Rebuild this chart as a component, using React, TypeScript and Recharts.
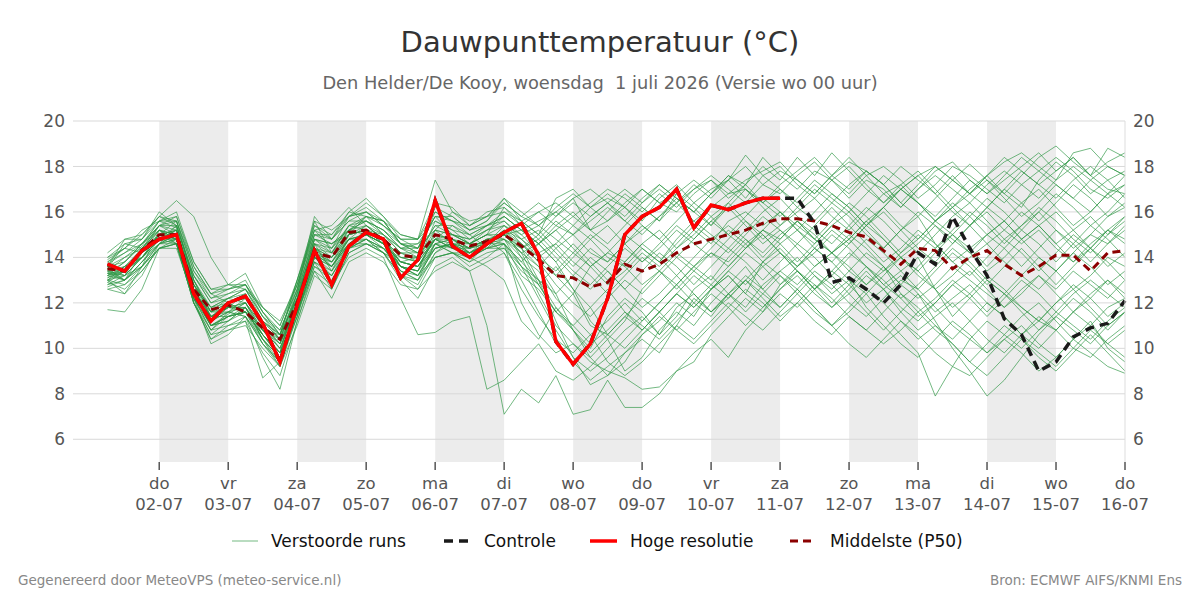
import React from 'react';
import { LineChart, Line, XAxis, YAxis, ReferenceArea, ReferenceLine } from 'recharts';

// hours since 01-07 00:00, 6-hourly from 01-07 06:00 to 16-07 00:00
const hours = [
  6, 12, 18, 24, 30, 36, 42, 48, 54, 60, 66, 72, 78, 84, 90, 96, 102, 108, 114, 120,
  126, 132, 138, 144, 150, 156, 162, 168, 174, 180, 186, 192, 198, 204, 210, 216, 222, 228, 234, 240,
  246, 252, 258, 264, 270, 276, 282, 288, 294, 300, 306, 312, 318, 324, 330, 336, 342, 348, 354, 360,
];

const dayTicks = [24, 48, 72, 96, 120, 144, 168, 192, 216, 240, 264, 288, 312, 336, 360];
const dayNames = ['do', 'vr', 'za', 'zo', 'ma', 'di', 'wo', 'do', 'vr', 'za', 'zo', 'ma', 'di', 'wo', 'do'];
const dayDates = ['02-07', '03-07', '04-07', '05-07', '06-07', '07-07', '08-07', '09-07', '10-07', '11-07', '12-07', '13-07', '14-07', '15-07', '16-07'];
const shadedDays = [[24, 48], [72, 96], [120, 144], [168, 192], [216, 240], [264, 288], [312, 336]];
const yTicks = [6, 8, 10, 12, 14, 16, 18, 20];

// Hoge resolutie (ends 11-07 00 uur)
const hires = [
  13.7, 13.4, 14.3, 14.8, 15.0, 12.4, 11.2, 12.0, 12.3, 11.1, 9.4, 11.9,
  14.3, 12.8, 14.5, 15.1, 14.8, 13.1, 13.9, 16.5, 14.5, 14.0, 14.6, 15.1,
  15.5, 14.1, 10.3, 9.3, 10.2, 12.2, 15.0, 15.8, 16.2, 17.0, 15.3, 16.3, 16.1, 16.4, 16.6, 16.6,
];

// Controle
const control = [
  13.7, 13.4, 14.3, 14.8, 15.0, 12.4, 11.2, 12.0, 12.3, 11.1, 9.4, 11.9,
  14.3, 12.8, 14.5, 15.1, 14.8, 13.1, 13.9, 16.5, 14.5, 14.0, 14.6, 15.1,
  15.5, 14.1, 10.3, 9.3, 10.2, 12.2, 15.0, 15.8, 16.2, 17.0, 15.3, 16.3, 16.1, 16.4, 16.6, 16.6,
  16.6, 15.5, 12.9, 13.1, 12.6, 12.0, 12.8, 14.2, 13.7, 15.8, 14.4, 13.2, 11.3, 10.6, 9.0, 9.4, 10.5, 10.9, 11.1, 12.1,
];

// Middelste (P50)
const p50 = [
  13.5, 13.4, 14.3, 15.0, 15.0, 12.6, 11.7, 11.9, 11.6, 10.9, 10.4, 12.0,
  14.2, 14.0, 15.1, 15.2, 14.8, 14.1, 14.0, 15.0, 14.8, 14.5, 14.7, 15.0,
  14.5, 13.9, 13.2, 13.1, 12.7, 12.9, 13.7, 13.4, 13.7, 14.2, 14.6, 14.8, 15.0, 15.2, 15.5, 15.7,
  15.7, 15.6, 15.4, 15.1, 14.9, 14.3, 13.7, 14.4, 14.3, 13.5, 14.0, 14.3, 13.7, 13.2, 13.6, 14.1, 14.1, 13.4, 14.2, 14.3,
];

// Verstoorde runs
const runs: number[][] = [
  [13.2, 13.8, 14.5, 15.6, 15.3, 12.4, 11.0, 11.5, 12.0, 10.6, 9.8, 12.5, 15.6, 14.2, 15.4, 15.8, 15.0, 14.2, 13.8, 15.6, 15.2, 14.6, 15.0, 16.2,
    15.4, 14.8, 15.6, 15.0, 14.2, 13.8, 14.6, 15.2, 15.8, 16.4, 15.6, 16.2, 16.8, 17.0, 16.2, 15.4,
    16.0, 16.6, 15.8, 15.2, 16.0, 16.8, 17.2, 16.4, 15.6, 16.2, 17.0, 17.6, 16.8, 16.2, 17.4, 18.2, 17.6, 16.8, 17.4, 17.8],
  [13.6, 13.2, 14.0, 14.8, 15.0, 12.8, 11.8, 12.2, 12.6, 11.4, 10.4, 11.8, 14.0, 13.6, 14.8, 15.0, 14.6, 13.2, 12.8, 14.2, 14.6, 14.0, 14.4, 14.6,
    12.0, 10.6, 9.8, 10.2, 9.6, 10.4, 11.2, 12.6, 13.4, 12.8, 13.6, 14.2, 13.8, 14.6, 15.2, 14.8,
    15.6, 14.8, 14.2, 13.6, 12.8, 13.4, 14.0, 13.2, 12.6, 11.8, 12.4, 13.2, 12.6, 11.8, 11.2, 10.8, 11.6, 12.4, 13.0, 12.2],
  [12.8, 13.0, 13.8, 14.6, 14.8, 12.2, 10.8, 11.0, 11.4, 10.2, 9.2, 11.6, 13.8, 12.6, 14.2, 14.6, 14.4, 13.6, 13.2, 14.0, 14.2, 13.8, 14.6, 15.4,
    15.0, 14.2, 13.2, 12.4, 13.6, 14.2, 13.8, 14.6, 15.2, 14.4, 15.0, 15.8, 16.4, 15.6, 14.8, 15.4,
    16.2, 17.0, 16.4, 15.8, 15.0, 14.4, 15.2, 15.8, 14.6, 13.8, 14.4, 15.0, 15.6, 14.8, 14.0, 13.4, 14.2, 15.0, 14.6, 15.4],
  [13.5, 14.6, 14.8, 15.8, 15.6, 13.4, 12.2, 12.6, 12.8, 11.6, 10.6, 13.0, 15.2, 14.4, 15.8, 16.2, 15.6, 14.6, 14.2, 16.0, 15.6, 15.0, 15.4, 15.8,
    15.2, 15.6, 16.0, 15.4, 16.2, 16.8, 16.2, 15.6, 16.6, 17.2, 16.4, 17.0, 17.4, 16.6, 17.6, 18.0,
    17.2, 16.6, 17.4, 18.0, 17.2, 16.4, 17.0, 17.6, 18.0, 17.4, 16.8, 17.6, 18.2, 18.6, 18.0, 17.4, 18.6, 18.8, 18.0, 17.6],
  [13.0, 12.4, 13.6, 15.2, 14.6, 12.0, 10.6, 11.2, 11.8, 10.4, 9.6, 11.4, 14.6, 13.4, 15.0, 15.2, 14.8, 13.8, 13.6, 14.8, 14.4, 14.2, 14.6, 15.0,
    14.4, 13.0, 11.2, 9.6, 8.4, 8.8, 9.4, 10.6, 11.2, 12.0, 11.4, 12.6, 13.2, 12.4, 13.8, 14.4,
    13.6, 14.2, 15.0, 14.4, 13.6, 12.8, 13.4, 14.0, 12.6, 11.4, 12.2, 13.0, 12.4, 11.6, 10.8, 11.4, 12.2, 11.6, 10.8, 11.6],
  [14.0, 14.4, 14.2, 15.4, 15.0, 12.6, 11.4, 12.0, 12.2, 11.0, 10.2, 12.2, 14.8, 14.6, 15.2, 15.6, 15.2, 14.4, 14.6, 15.8, 15.0, 14.8, 15.2, 15.6,
    14.8, 14.2, 14.6, 15.4, 14.8, 14.0, 13.6, 14.4, 13.8, 14.8, 15.6, 15.0, 14.4, 15.2, 16.0, 16.6,
    15.8, 15.2, 14.6, 15.4, 16.2, 15.6, 14.8, 14.2, 15.0, 15.8, 16.4, 15.6, 14.8, 15.4, 16.0, 15.2, 14.4, 15.0, 15.8, 16.2],
  [12.6, 12.8, 13.4, 14.4, 14.6, 12.0, 10.4, 10.8, 11.2, 9.8, 8.8, 11.2, 13.6, 13.0, 14.4, 14.8, 14.2, 13.0, 12.2, 13.6, 14.0, 13.4, 11.0, 7.1,
    8.2, 7.6, 8.8, 7.1, 7.3, 8.6, 7.4, 7.4, 8.0, 9.0, 9.4, 10.6, 11.4, 12.2, 11.6, 12.8,
    13.4, 12.6, 11.8, 12.4, 13.2, 12.6, 11.6, 10.8, 11.4, 12.0, 11.2, 10.4, 9.8, 10.6, 11.4, 10.8, 10.0, 9.6, 10.4, 11.0],
  [13.4, 13.0, 13.8, 14.6, 15.0, 12.6, 11.2, 11.6, 11.4, 10.2, 9.4, 11.8, 14.2, 13.8, 14.6, 15.0, 14.4, 13.4, 13.0, 14.6, 14.8, 14.2, 14.6, 15.2,
    14.0, 12.4, 11.0, 10.2, 9.4, 9.0, 8.7, 8.2, 8.3, 9.0, 9.8, 10.4, 9.6, 10.8, 11.6, 12.4,
    11.8, 12.6, 13.4, 12.8, 12.0, 12.6, 13.2, 12.4, 11.6, 12.2, 12.8, 12.0, 11.4, 10.6, 11.2, 12.0, 12.6, 11.8, 11.0, 11.6],
  [13.8, 14.2, 14.8, 16.0, 15.4, 13.2, 12.2, 12.4, 12.6, 11.2, 10.4, 12.6, 15.8, 14.8, 15.6, 16.0, 15.4, 14.8, 14.4, 16.2, 15.8, 15.2, 15.6, 16.6,
    16.0, 15.4, 16.2, 16.8, 16.2, 15.6, 16.4, 17.0, 16.4, 16.0, 16.8, 17.4, 16.6, 17.2, 18.0, 17.4,
    18.4, 17.6, 18.6, 17.8, 17.0, 16.4, 17.2, 17.8, 17.0, 16.2, 16.8, 17.4, 16.6, 15.8, 16.4, 17.2, 16.6, 16.0, 16.8, 17.2],
  [12.9, 13.4, 14.0, 14.8, 15.4, 13.0, 11.6, 11.8, 12.4, 11.0, 10.2, 11.8, 14.4, 14.0, 15.2, 15.4, 14.8, 13.6, 13.4, 15.2, 14.6, 14.4, 14.8, 14.6,
    13.8, 14.6, 15.2, 14.4, 13.6, 14.2, 15.0, 14.4, 13.8, 14.6, 15.4, 14.8, 14.2, 15.0, 15.8, 15.2,
    14.6, 15.4, 16.2, 15.4, 14.6, 13.8, 14.4, 15.2, 14.6, 13.8, 13.2, 14.0, 14.8, 14.2, 13.4, 14.2, 15.0, 14.4, 13.6, 14.2],
  [13.6, 13.4, 14.4, 15.2, 14.8, 12.2, 11.0, 11.4, 11.6, 10.6, 9.8, 11.6, 13.4, 12.8, 14.0, 14.4, 14.0, 12.2, 10.6, 10.7, 11.2, 11.4, 8.2, 8.6,
    9.4, 10.2, 9.0, 8.6, 9.2, 10.0, 10.8, 11.4, 10.6, 11.8, 12.4, 11.6, 12.2, 13.0, 12.4, 11.8,
    12.6, 13.4, 12.8, 12.0, 11.4, 12.2, 13.0, 12.6, 11.8, 11.0, 10.4, 9.8, 10.6, 11.4, 12.0, 11.2, 10.4, 11.0, 11.8, 12.2],
  [13.0, 13.2, 14.0, 15.0, 15.6, 13.6, 12.4, 12.0, 11.6, 10.8, 10.4, 12.4, 14.6, 14.4, 15.4, 15.2, 14.6, 14.2, 14.2, 15.4, 15.0, 14.6, 15.2, 15.4,
    14.6, 13.8, 13.2, 14.0, 14.8, 15.4, 14.6, 13.8, 14.4, 15.2, 14.6, 14.0, 14.8, 15.6, 15.0, 14.2,
    13.6, 14.4, 15.2, 14.6, 15.4, 16.0, 15.2, 14.4, 13.8, 14.6, 15.4, 16.0, 15.2, 14.6, 15.2, 14.4, 13.8, 14.6, 15.2, 14.8],
  [13.4, 13.6, 14.2, 14.8, 14.8, 12.4, 11.4, 11.8, 11.8, 10.4, 9.2, 11.4, 14.0, 13.6, 14.6, 15.0, 14.6, 13.8, 13.6, 14.4, 14.6, 14.4, 14.8, 14.2,
    12.6, 11.4, 10.4, 9.8, 10.6, 9.4, 8.8, 9.4, 10.2, 11.0, 10.4, 11.2, 12.0, 11.4, 10.8, 11.6,
    12.4, 13.2, 12.6, 13.4, 14.2, 13.6, 12.8, 12.2, 12.8, 13.6, 13.0, 12.4, 11.8, 12.4, 13.2, 12.6, 13.4, 12.8, 12.2, 13.0],
  [13.6, 14.8, 15.0, 15.8, 16.5, 15.8, 14.0, 12.8, 12.6, 11.8, 11.0, 13.0, 15.4, 15.0, 16.0, 16.6, 15.8, 15.0, 14.8, 17.4, 16.0, 15.6, 15.8, 16.4,
    15.8, 16.4, 15.8, 16.6, 15.2, 16.0, 16.8, 16.2, 15.6, 16.4, 17.2, 16.6, 17.4, 18.0, 17.2, 16.8,
    17.6, 18.2, 17.4, 16.8, 17.6, 18.0, 17.4, 16.6, 17.2, 18.0, 17.6, 17.0, 16.4, 17.2, 17.8, 18.4, 17.8, 17.0, 16.6, 17.2],
  [12.6, 12.4, 13.2, 14.6, 15.0, 12.0, 10.8, 11.6, 12.2, 11.2, 10.6, 12.2, 14.8, 14.6, 15.0, 15.8, 15.6, 14.6, 14.2, 14.8, 15.4, 15.0, 14.4, 15.2,
    14.4, 15.0, 14.2, 13.4, 12.8, 13.6, 14.4, 13.8, 14.6, 15.4, 14.8, 15.6, 16.2, 15.4, 14.6, 15.2,
    14.4, 13.6, 14.2, 15.0, 14.4, 13.6, 12.8, 13.6, 14.4, 15.0, 14.2, 13.4, 14.0, 14.8, 15.4, 14.6, 13.8, 14.4, 15.2, 14.6],
  [11.7, 11.6, 12.6, 14.4, 14.6, 12.0, 10.6, 10.8, 11.0, 10.0, 9.2, 11.0, 13.2, 12.6, 14.2, 14.6, 14.2, 13.2, 12.6, 14.0, 14.2, 13.6, 14.0, 14.6,
    13.6, 12.8, 11.6, 12.4, 11.0, 10.6, 11.4, 12.2, 11.6, 12.4, 13.2, 12.6, 13.4, 14.2, 13.6, 12.8,
    13.6, 14.4, 13.8, 13.0, 12.4, 13.2, 14.0, 13.4, 12.6, 13.2, 14.0, 14.6, 13.8, 13.2, 12.6, 13.4, 14.2, 13.6, 12.8, 13.4],
  [14.0, 14.6, 14.4, 15.4, 15.8, 13.8, 12.6, 12.8, 13.3, 11.8, 11.2, 12.8, 15.2, 15.4, 16.2, 15.4, 15.0, 14.4, 14.4, 15.2, 16.0, 15.4, 15.8, 16.6,
    15.6, 15.0, 16.6, 17.0, 16.2, 16.6, 16.2, 17.0, 16.4, 16.8, 17.4, 16.8, 17.6, 17.2, 18.4, 17.6,
    17.0, 17.8, 17.4, 16.6, 17.4, 17.0, 16.2, 17.0, 17.8, 18.2, 17.4, 16.8, 17.4, 18.0, 18.6, 17.8, 18.4, 17.6, 17.0, 16.8],
  [13.2, 13.4, 14.2, 15.0, 15.2, 12.8, 11.6, 11.6, 11.8, 10.6, 9.6, 12.0, 14.4, 13.8, 15.0, 15.2, 14.8, 13.6, 13.4, 14.4, 14.6, 14.6, 15.0, 14.8,
    14.2, 14.6, 13.8, 12.6, 11.2, 10.4, 9.0, 9.6, 10.8, 11.6, 11.0, 12.0, 12.8, 13.6, 12.6, 13.4,
    14.0, 13.2, 12.4, 13.0, 11.8, 11.0, 10.2, 9.6, 10.4, 11.2, 10.6, 9.8, 10.4, 11.0, 10.2, 9.6, 10.4, 11.2, 10.0, 9.4],
  [13.6, 13.8, 14.6, 15.2, 15.0, 13.2, 12.0, 12.2, 12.0, 11.0, 10.4, 12.4, 15.0, 14.8, 15.6, 15.6, 15.2, 14.6, 14.6, 15.2, 15.0, 14.8, 15.4, 15.6,
    15.0, 15.4, 14.8, 14.2, 13.6, 12.8, 13.4, 14.2, 13.6, 14.4, 15.2, 14.6, 15.6, 16.0, 15.4, 16.0,
    15.4, 14.8, 15.6, 16.4, 15.8, 15.0, 14.2, 14.8, 15.6, 16.2, 15.4, 14.6, 15.2, 16.0, 15.4, 14.6, 15.2, 15.8, 15.0, 15.6],
  [13.0, 13.6, 14.0, 14.6, 15.4, 13.0, 11.4, 11.4, 11.6, 10.8, 10.0, 11.8, 14.2, 14.0, 14.8, 14.8, 14.4, 14.0, 13.8, 14.8, 14.4, 14.0, 13.6, 13.0,
    11.2, 10.4, 11.8, 10.8, 10.0, 11.4, 12.2, 11.6, 10.6, 11.4, 12.6, 13.2, 12.4, 11.6, 12.4, 13.2,
    12.6, 11.8, 11.0, 11.8, 12.6, 12.0, 11.2, 10.4, 11.0, 10.2, 9.4, 10.2, 11.0, 10.4, 9.6, 9.0, 9.8, 10.6, 9.8, 9.0],
  [13.3, 13.8, 14.6, 15.4, 15.2, 12.8, 11.8, 12.2, 12.6, 11.4, 10.8, 12.6, 14.8, 14.4, 15.2, 15.6, 15.2, 14.4, 14.2, 15.4, 15.4, 14.8, 15.2, 15.8,
    15.2, 14.6, 15.4, 16.0, 15.2, 14.6, 15.4, 16.2, 15.6, 16.8, 16.2, 15.4, 16.4, 17.2, 16.4, 17.0,
    16.2, 15.6, 16.4, 17.2, 17.8, 17.2, 16.4, 15.8, 16.6, 17.4, 18.1, 17.4, 16.8, 17.6, 18.4, 18.9, 18.2, 17.6, 18.8, 18.4],
  [12.8, 13.2, 13.6, 14.4, 14.4, 12.2, 11.2, 11.8, 12.0, 10.8, 10.6, 12.2, 14.2, 13.6, 14.6, 14.6, 14.2, 13.8, 14.0, 14.6, 14.2, 14.0, 14.4, 14.4,
    13.6, 13.0, 12.4, 13.2, 14.0, 13.4, 12.6, 13.4, 14.2, 13.6, 12.8, 13.6, 14.4, 13.8, 13.0, 13.8,
    14.6, 14.0, 13.2, 14.0, 14.8, 14.2, 13.4, 12.6, 13.4, 14.2, 13.6, 12.8, 13.6, 14.4, 13.6, 12.8, 13.6, 14.4, 13.8, 13.0],
  [13.5, 13.4, 14.0, 15.0, 14.8, 12.6, 11.2, 11.8, 11.6, 10.6, 9.8, 11.6, 13.8, 13.4, 14.4, 14.8, 14.4, 13.4, 13.2, 14.4, 14.6, 14.2, 14.4, 14.8,
    14.0, 13.4, 12.2, 11.4, 10.6, 11.2, 12.0, 11.2, 12.0, 12.8, 12.0, 11.4, 12.4, 13.2, 12.6, 11.8,
    12.6, 11.8, 11.0, 11.6, 12.4, 11.4, 10.6, 9.8, 7.9, 9.2, 10.4, 11.2, 10.6, 10.0, 10.8, 11.6, 11.0, 10.4, 11.2, 11.8],
  [13.1, 13.4, 14.2, 15.2, 15.0, 12.4, 11.0, 11.2, 11.8, 10.4, 9.4, 11.8, 14.0, 13.2, 14.6, 15.2, 14.6, 13.4, 13.0, 14.2, 14.8, 14.6, 14.6, 15.0,
    14.2, 12.8, 11.6, 10.8, 9.8, 10.6, 11.4, 10.8, 11.6, 12.4, 11.8, 12.6, 13.4, 12.8, 13.6, 14.2,
    13.4, 12.6, 13.2, 12.4, 11.6, 10.8, 11.6, 12.4, 11.2, 10.0, 9.0, 7.9, 8.6, 9.6, 10.6, 11.4, 10.8, 10.2, 11.0, 11.6],
  [13.7, 14.2, 14.6, 15.6, 15.6, 13.4, 12.4, 12.8, 12.8, 11.4, 10.6, 13.0, 15.6, 15.2, 15.8, 16.4, 15.8, 14.8, 14.8, 16.4, 16.2, 15.4, 15.8, 16.0,
    15.6, 16.0, 16.4, 15.8, 16.4, 17.0, 16.6, 16.0, 16.8, 16.2, 17.0, 17.6, 17.0, 16.4, 17.2, 17.8,
    17.4, 16.8, 17.6, 18.2, 17.8, 17.2, 18.0, 17.4, 16.8, 17.6, 16.8, 16.2, 17.0, 17.8, 17.2, 16.6, 17.4, 18.0, 17.4, 16.6],
  [13.3, 13.0, 13.8, 14.8, 14.6, 12.0, 10.4, 11.0, 11.2, 8.7, 9.4, 11.6, 13.6, 13.2, 14.4, 14.6, 14.2, 13.6, 13.4, 14.6, 14.2, 14.2, 14.6, 14.8,
    14.4, 13.6, 12.4, 10.8, 9.6, 8.8, 9.8, 10.4, 9.8, 11.0, 12.2, 11.6, 12.4, 11.8, 12.8, 13.4,
    12.8, 13.6, 14.2, 13.4, 12.8, 13.6, 12.4, 11.6, 12.2, 13.0, 12.4, 11.6, 12.4, 11.8, 11.2, 12.0, 12.8, 12.2, 11.4, 12.0],
  [13.9, 14.4, 15.0, 15.8, 15.4, 13.2, 12.0, 12.4, 12.8, 11.6, 10.6, 12.8, 15.4, 14.8, 15.8, 16.0, 15.4, 14.6, 14.4, 15.8, 15.6, 15.2, 15.6, 16.4,
    15.8, 15.4, 16.0, 16.6, 17.0, 16.4, 15.8, 16.6, 17.2, 16.6, 16.0, 16.8, 17.4, 18.5, 17.6, 17.0,
    16.4, 17.2, 16.6, 16.0, 16.8, 17.6, 17.0, 16.4, 15.8, 16.6, 17.4, 16.8, 17.6, 18.4, 17.8, 17.2, 16.6, 17.4, 18.0, 17.6],
  [13.0, 13.4, 14.2, 14.8, 15.0, 12.6, 11.4, 11.6, 12.0, 11.0, 10.0, 12.0, 14.4, 14.0, 15.0, 15.4, 14.8, 14.0, 13.8, 14.8, 14.8, 14.4, 14.6, 15.0,
    14.6, 14.0, 14.6, 13.8, 13.2, 12.4, 13.2, 14.0, 13.4, 12.6, 13.4, 14.2, 13.6, 14.4, 15.0, 14.2,
    13.4, 12.6, 13.4, 14.2, 13.6, 12.8, 12.2, 12.8, 13.6, 14.4, 13.8, 13.0, 12.4, 13.2, 14.0, 13.4, 12.6, 13.2, 14.0, 13.6],
  [13.4, 13.2, 14.4, 15.0, 15.2, 12.8, 11.6, 12.0, 11.6, 10.6, 9.8, 12.2, 14.6, 14.2, 15.2, 15.0, 14.6, 13.8, 13.6, 14.6, 14.8, 14.4, 14.6, 14.6,
    13.2, 12.6, 11.6, 11.0, 10.2, 10.8, 11.6, 11.0, 10.4, 11.2, 12.0, 12.8, 12.2, 13.0, 13.8, 13.2,
    12.4, 11.6, 11.0, 10.2, 9.6, 10.4, 11.2, 10.6, 9.8, 9.2, 8.8, 9.6, 10.4, 9.8, 9.0, 9.6, 10.4, 9.8, 9.2, 8.9],
  [13.2, 13.0, 13.6, 14.6, 14.8, 12.4, 11.2, 11.6, 11.4, 10.4, 9.6, 11.8, 14.2, 13.8, 14.8, 15.0, 14.6, 13.6, 13.4, 15.0, 14.8, 14.2, 14.6, 15.2,
    14.8, 14.0, 13.4, 14.2, 15.0, 14.4, 13.6, 12.8, 13.4, 14.2, 13.6, 14.4, 15.2, 14.6, 13.8, 14.6,
    15.2, 14.4, 13.8, 14.6, 15.4, 14.8, 14.0, 14.6, 15.4, 14.8, 14.2, 15.0, 14.4, 13.6, 14.4, 15.2, 14.6, 13.8, 14.6, 15.2],
  [12.9, 12.6, 13.4, 14.4, 14.6, 12.2, 10.2, 10.6, 11.4, 9.6, 8.2, 11.2, 13.4, 12.2, 13.8, 14.2, 13.8, 12.8, 12.6, 13.4, 13.8, 13.4, 13.8, 14.2,
    13.0, 11.6, 10.2, 9.4, 8.6, 9.2, 9.8, 10.6, 11.4, 10.8, 11.6, 12.4, 11.8, 11.0, 11.8, 12.6,
    13.2, 12.4, 11.8, 12.6, 13.4, 12.6, 11.8, 11.2, 12.0, 12.8, 12.2, 11.4, 12.2, 13.0, 12.4, 11.6, 12.4, 13.0, 12.4, 11.8],
  [13.6, 14.0, 14.4, 15.4, 15.4, 13.0, 11.8, 12.0, 12.4, 11.2, 10.6, 12.4, 15.0, 14.6, 15.2, 15.8, 15.4, 14.8, 14.8, 15.6, 15.2, 15.0, 15.4, 15.8,
    15.2, 14.6, 15.2, 15.8, 15.2, 15.6, 16.2, 15.4, 14.8, 15.6, 16.4, 15.8, 15.0, 15.8, 16.6, 16.0,
    15.2, 16.0, 16.8, 16.2, 15.4, 16.2, 17.0, 16.4, 15.6, 15.0, 15.8, 16.6, 16.0, 15.2, 16.0, 16.8, 16.2, 15.4, 16.0, 16.8],
  [13.4, 14.0, 14.6, 15.4, 15.6, 13.0, 11.6, 12.2, 12.4, 11.0, 10.2, 12.0, 14.8, 14.2, 15.4, 15.6, 15.0, 14.2, 14.0, 15.2, 15.0, 14.6, 15.0, 15.4,
    14.8, 15.2, 14.4, 15.0, 15.8, 16.4, 15.6, 15.0, 15.8, 16.6, 16.0, 15.4, 16.2, 17.0, 16.4, 15.8,
    16.6, 17.4, 16.8, 16.2, 15.4, 16.2, 17.0, 17.6, 16.8, 16.0, 15.4, 16.2, 17.0, 16.4, 15.6, 16.4, 17.2, 16.6, 15.8, 16.4],
  [13.1, 13.6, 14.0, 15.0, 14.8, 12.2, 11.0, 11.4, 11.8, 10.8, 9.8, 11.8, 14.0, 13.8, 14.8, 15.0, 14.6, 13.8, 13.6, 14.8, 14.6, 14.2, 14.6, 15.2,
    14.6, 13.8, 12.8, 12.0, 11.4, 12.2, 13.0, 12.4, 13.2, 14.0, 13.4, 12.8, 13.6, 14.4, 15.2, 14.6,
    13.8, 14.6, 15.4, 14.8, 14.0, 13.4, 14.2, 15.0, 14.4, 15.2, 16.0, 15.4, 14.6, 15.4, 16.2, 15.6, 14.8, 14.2, 15.0, 15.8],
  [13.3, 13.2, 14.0, 14.8, 15.2, 12.8, 11.4, 11.8, 12.0, 10.8, 10.0, 12.0, 14.4, 13.6, 14.8, 15.4, 14.8, 13.8, 13.6, 14.8, 14.4, 14.4, 14.8, 15.0,
    14.4, 14.8, 14.0, 13.2, 12.6, 13.4, 12.6, 11.8, 12.4, 13.2, 12.4, 11.6, 12.4, 13.0, 12.2, 11.4,
    12.0, 11.2, 10.6, 11.4, 10.8, 10.2, 10.8, 11.6, 10.8, 10.2, 9.4, 8.8, 9.6, 10.4, 9.8, 9.2, 10.0, 10.8, 10.2, 9.6],
  [13.8, 14.4, 15.2, 15.6, 15.8, 13.6, 12.4, 12.6, 13.0, 11.6, 10.8, 12.6, 15.2, 14.8, 16.0, 15.8, 15.6, 15.0, 14.8, 16.0, 15.6, 15.4, 16.0, 16.2,
    15.6, 15.0, 15.8, 16.4, 15.8, 16.4, 17.0, 16.4, 17.2, 16.6, 16.0, 16.8, 17.6, 17.0, 16.4, 17.2,
    17.8, 18.4, 17.6, 17.0, 17.8, 17.2, 16.4, 17.2, 18.0, 17.4, 16.8, 17.6, 18.4, 17.8, 17.2, 17.8, 18.4, 17.6, 18.2, 18.6],
  [13.5, 13.0, 14.2, 15.0, 14.6, 12.4, 11.6, 12.0, 12.2, 11.2, 10.4, 12.2, 14.6, 14.0, 15.0, 15.2, 15.0, 14.4, 14.0, 14.8, 15.0, 14.6, 15.0, 15.0,
    15.2, 14.6, 13.8, 14.6, 13.8, 13.0, 13.8, 14.6, 14.0, 13.2, 14.0, 14.8, 15.4, 14.8, 14.0, 14.8,
    15.6, 15.0, 14.2, 14.8, 15.6, 14.8, 14.0, 13.4, 14.2, 15.0, 14.4, 13.6, 14.4, 15.2, 14.6, 13.8, 14.6, 15.4, 14.8, 14.0],
  [13.2, 13.6, 14.4, 15.2, 14.8, 12.6, 11.0, 11.4, 11.6, 10.6, 9.6, 11.6, 14.2, 13.6, 14.6, 15.0, 14.6, 13.6, 13.2, 14.6, 14.4, 14.2, 14.8, 14.8,
    13.6, 12.2, 10.8, 9.6, 9.0, 9.6, 10.4, 11.2, 12.0, 12.8, 13.6, 13.0, 14.0, 14.8, 14.2, 15.0,
    15.6, 14.8, 14.2, 14.8, 15.6, 16.2, 15.4, 14.8, 15.6, 16.4, 15.8, 15.0, 15.6, 16.4, 17.0, 16.2, 15.4, 16.0, 16.8, 16.2],
  [12.7, 13.0, 13.6, 14.6, 14.6, 12.2, 10.8, 11.4, 11.6, 10.2, 9.4, 11.4, 13.8, 13.2, 14.4, 14.8, 14.2, 13.2, 13.0, 14.0, 14.2, 13.8, 14.2, 14.4,
    13.4, 12.8, 13.6, 12.6, 11.8, 12.6, 11.6, 10.8, 11.6, 12.4, 11.8, 12.6, 13.2, 12.4, 11.8, 12.6,
    13.4, 12.8, 12.0, 12.8, 13.6, 13.0, 12.2, 11.4, 12.0, 12.8, 13.4, 12.6, 11.8, 12.6, 13.2, 12.4, 11.6, 12.2, 13.0, 12.4],
  [14.2, 14.8, 14.8, 15.6, 16.0, 13.8, 12.6, 12.6, 12.8, 11.8, 11.0, 12.8, 15.0, 15.0, 15.8, 16.0, 15.6, 14.6, 14.4, 15.8, 15.8, 15.2, 15.4, 16.0,
    15.4, 16.0, 15.4, 15.0, 15.6, 16.2, 15.6, 16.4, 17.0, 16.4, 17.0, 17.4, 16.8, 17.4, 17.8, 18.2,
    17.4, 16.8, 17.6, 18.4, 17.6, 16.8, 16.2, 17.0, 17.6, 17.0, 16.4, 17.2, 17.8, 17.2, 16.6, 17.4, 18.0, 17.4, 16.8, 17.6],
  [13.3, 13.4, 14.0, 14.8, 15.2, 12.6, 11.4, 11.8, 11.8, 10.8, 10.2, 12.0, 14.4, 14.2, 15.0, 15.2, 14.8, 14.0, 14.0, 15.0, 14.8, 14.4, 14.8, 15.0,
    14.2, 13.6, 14.4, 13.6, 14.4, 13.8, 14.6, 15.4, 14.8, 14.0, 14.8, 15.6, 15.0, 14.4, 15.2, 16.0,
    15.2, 14.6, 15.4, 16.0, 15.2, 14.4, 15.2, 16.0, 15.4, 14.6, 15.4, 16.2, 15.6, 14.8, 15.4, 16.0, 15.2, 14.4, 15.2, 15.8],
  [13.0, 12.8, 13.6, 14.4, 14.8, 12.4, 11.0, 11.2, 11.6, 10.4, 9.6, 11.6, 14.0, 13.4, 14.6, 14.8, 14.4, 13.6, 13.2, 14.4, 14.6, 14.0, 14.4, 14.6,
    13.8, 13.0, 11.8, 11.0, 11.8, 10.6, 10.0, 10.8, 11.6, 10.8, 10.2, 11.0, 11.8, 12.6, 12.0, 11.2,
    12.0, 12.8, 12.2, 11.4, 10.8, 11.6, 12.4, 11.8, 11.0, 10.4, 11.2, 12.0, 11.4, 10.6, 10.0, 10.8, 11.6, 11.0, 10.2, 10.8],
];

const rows = hours.map((h, i) => {
  const row: Record<string, number | null> = {
    h,
    hires: i < hires.length ? hires[i] : null,
    control: control[i],
    p50: p50[i],
  };
  runs.forEach((r, k) => { row['r' + k] = r[i]; });
  return row;
});

const FONT = '"DejaVu Sans", sans-serif';

const DayTick = (props: any) => {
  const { x, y, payload } = props;
  const idx = dayTicks.indexOf(payload.value);
  return (
    <text x={x} y={y} textAnchor="middle" fill="#555" fontSize={16.5} fontFamily={FONT}>
      <tspan x={x} dy={17}>{dayNames[idx]}</tspan>
      <tspan x={x} dy={21}>{dayDates[idx]}</tspan>
    </text>
  );
};

export default function App() {
  return (
    <div style={{ position: 'absolute', left: 0, top: 0, width: 1200, height: 600, background: '#fff', fontFamily: FONT }}>
      <LineChart width={1200} height={600} data={rows} margin={{ top: 121, right: 0, bottom: 0, left: 0 }}>
        {shadedDays.map(([a, b]) => (
          <ReferenceArea key={a} x1={a} x2={b} y1={5} y2={20} yAxisId="left" fill="#000" fillOpacity={0.075} stroke="none" />
        ))}
        {yTicks.map((v) => (
          <ReferenceLine key={v} y={v} yAxisId="left" stroke="#d9d9d9" strokeWidth={1} />
        ))}
        <XAxis
          dataKey="h"
          type="number"
          domain={[-6, 360]}
          ticks={dayTicks}
          tick={<DayTick />}
          tickSize={8}
          tickLine={{ stroke: '#555', strokeWidth: 1.5 }}
          axisLine={false}
          height={138}
          interval={0}
        />
        <YAxis
          yAxisId="left"
          domain={[5, 20]}
          ticks={yTicks}
          width={73}
          axisLine={false}
          tickLine={false}
          tick={{ fill: '#555', fontSize: 17, fontFamily: FONT }}
        />
        <YAxis
          yAxisId="right"
          orientation="right"
          domain={[5, 20]}
          ticks={yTicks}
          width={75}
          allowDataOverflow
          axisLine={{ stroke: '#dddddd' }}
          tickLine={false}
          tick={{ fill: '#555', fontSize: 17, fontFamily: FONT }}
        />
        {runs.map((_, k) => (
          <Line
            key={k}
            yAxisId="left"
            dataKey={'r' + k}
            type="linear"
            stroke="#2a9441"
            strokeOpacity={0.66}
            strokeWidth={1}
            dot={false}
            isAnimationActive={false}
          />
        ))}
        <Line yAxisId="right" dataKey="p50" type="linear" stroke="#8b0000" strokeWidth={3} strokeDasharray="8 5" dot={false} isAnimationActive={false} />
        <Line yAxisId="left" dataKey="control" type="linear" stroke="#1a1a1a" strokeWidth={3.5} strokeDasharray="9 6" dot={false} isAnimationActive={false} />
        <Line yAxisId="left" dataKey="hires" type="linear" stroke="#ff0000" strokeWidth={3.5} dot={false} isAnimationActive={false} />
      </LineChart>
      <svg width={1200} height={600} style={{ position: 'absolute', left: 0, top: 0, pointerEvents: 'none', whiteSpace: 'pre' }} fontFamily={FONT}>
        <text x={600} y={52} textAnchor="middle" fontSize={29} fill="#333">Dauwpunttemperatuur (°C)</text>
        <text x={600} y={89} textAnchor="middle" fontSize={17.8} fill="#666" xmlSpace="preserve">Den Helder/De Kooy, woensdag  1 juli 2026 (Versie wo 00 uur)</text>

        <line x1={232} x2={258} y1={541} y2={541} stroke="#2a9441" strokeOpacity={0.66} strokeWidth={1} />
        <text x={271} y={547} fontSize={17} fill="#111">Verstoorde runs</text>
        <line x1={444} x2={471} y1={541} y2={541} stroke="#1a1a1a" strokeWidth={3.5} strokeDasharray="9 6" />
        <text x={484} y={547} fontSize={17} fill="#111">Controle</text>
        <line x1={590} x2={617} y1={541} y2={541} stroke="#ff0000" strokeWidth={3.5} />
        <text x={630} y={547} fontSize={17} fill="#111">Hoge resolutie</text>
        <line x1={790} x2={814} y1={541} y2={541} stroke="#8b0000" strokeWidth={3} strokeDasharray="8 5" />
        <text x={830} y={547} fontSize={17} fill="#111">Middelste (P50)</text>

        <text x={18} y={585} fontSize={13.5} fill="#888">Gegenereerd door MeteoVPS (meteo-service.nl)</text>
        <text x={1182} y={585} textAnchor="end" fontSize={13.5} fill="#888">Bron: ECMWF AIFS/KNMI Ens</text>
      </svg>
    </div>
  );
}
